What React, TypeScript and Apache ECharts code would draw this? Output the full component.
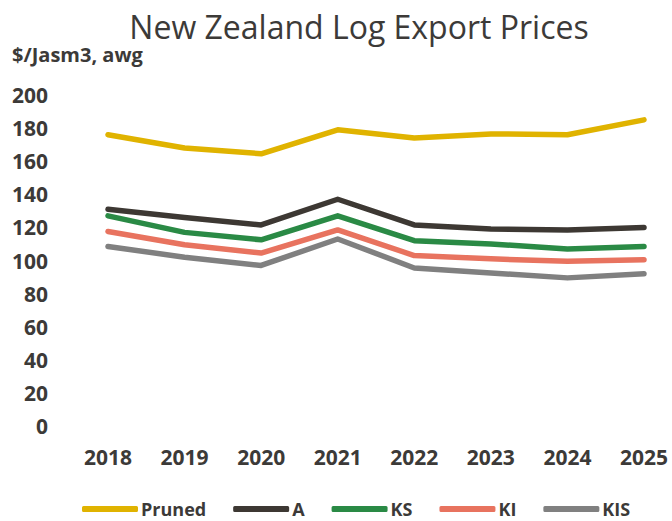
import React, { useEffect, useRef } from "react";
import * as echarts from "echarts";

const years = ["2018", "2019", "2020", "2021", "2022", "2023", "2024", "2025"];
const pruned = [176, 168, 164.5, 179, 174, 176.5, 176, 185];
const gradeA = [131, 126, 121.5, 137, 121.5, 119, 118.5, 120];
const gradeKS = [127, 117, 112.5, 127, 112, 110, 107, 108.5];
const gradeKI = [117.5, 109.5, 104.5, 118.5, 103, 101, 99.5, 100.5];
const gradeKIS = [108.5, 102, 97, 113, 95.5, 92.5, 89.5, 92];
const yTicks = { min: 0, max: 200, interval: 20 };

const seriesDefs = [
  { name: "Pruned", data: pruned, color: "#E0B300" },
  { name: "A", data: gradeA, color: "#3D3833" },
  { name: "KS", data: gradeKS, color: "#2A8A45" },
  { name: "KI", data: gradeKI, color: "#E8735F" },
  { name: "KIS", data: gradeKIS, color: "#808080" },
];

const FONT = "Open Sans";
const TXT = "#3c3a38";

export default function App() {
  const ref = useRef<HTMLDivElement>(null);
  useEffect(() => {
    if (!ref.current) return;
    const chart = echarts.init(ref.current, null, { renderer: "svg" });
    chart.setOption({
      animation: false,
      backgroundColor: "#ffffff",
      textStyle: { fontFamily: FONT },
      title: {
        text: "New Zealand Log Export Prices",
        left: 354,
        textAlign: "center",
        top: 5,
        textStyle: { fontFamily: FONT, fontSize: 32, fontWeight: "normal", color: TXT },
      },
      graphic: [
        {
          type: "text",
          left: 12,
          top: 44,
          style: { text: "$/Jasm3, awg", fontFamily: FONT, fontSize: 20, fontWeight: "bold", fill: TXT },
        },
      ],
      legend: {
        top: 500,
        left: 82,
        padding: 0,
        itemWidth: 56,
        itemHeight: 6,
        itemGap: 27,
        icon: "roundRect",
        textStyle: {
          fontFamily: FONT,
          fontSize: 18,
          lineHeight: 18,
          fontWeight: "bold",
          color: TXT,
          padding: [0, 0, 0, -2],
        },
        data: seriesDefs.map((s) => s.name),
      },
      grid: { left: 108, right: 28, top: 95, bottom: 95, containLabel: false },
      xAxis: {
        type: "category",
        data: years,
        boundaryGap: false,
        axisLine: { show: false },
        axisTick: { show: false },
        axisLabel: { fontFamily: FONT, fontSize: 21, fontWeight: "bold", color: TXT, margin: 20 },
      },
      yAxis: {
        type: "value",
        min: yTicks.min,
        max: yTicks.max,
        interval: yTicks.interval,
        splitLine: { show: false },
        axisLine: { show: false },
        axisTick: { show: false },
        axisLabel: { fontFamily: FONT, fontSize: 21, fontWeight: "bold", color: TXT, margin: 60 },
      },
      series: seriesDefs.map((s) => ({
        name: s.name,
        type: "line",
        data: s.data,
        symbol: "none",
        color: s.color,
        lineStyle: { width: 5.5, color: s.color, cap: "round", join: "round" },
        itemStyle: { color: s.color },
      })),
    });
    return () => chart.dispose();
  }, []);
  return (
    <div
      ref={ref}
      style={{ position: "absolute", left: 0, top: 0, width: 672, height: 521 }}
    />
  );
}
